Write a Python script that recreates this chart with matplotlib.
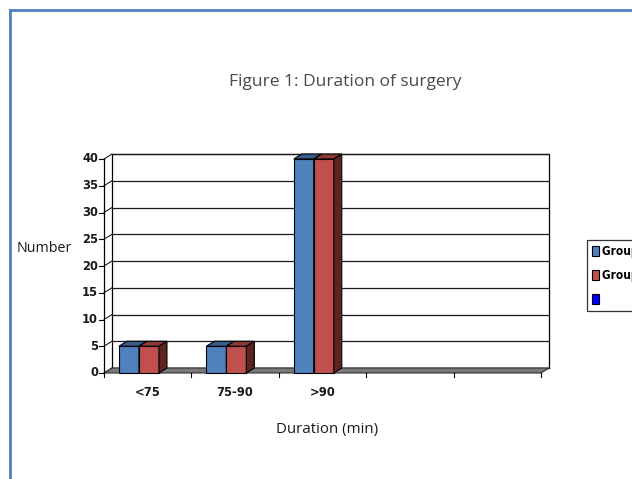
import numpy as np
import matplotlib.pyplot as plt
from matplotlib.patches import Polygon, Patch
from matplotlib.lines import Line2D

# data
categories = ['<75', '75-90', '>90', '', '']
group1 = [5, 5, 40]
group2 = [5, 5, 40]
series_names = ['Group 1', 'Group 2', '']
y_ticks = [0, 5, 10, 15, 20, 25, 30, 35, 40]

W, H = 632, 479
fig = plt.figure(figsize=(W / 100, H / 100), dpi=100)
fig.patch.set_facecolor('white')

tick_font = dict(family='DejaVu Sans', stretch='condensed', weight='bold', size=9.3)

# axes placed in pixel terms: front axis x 104..541, y(0)=373, y(40)=159
x0_px, x1_px = 104, 541
y0_px, y40_px = 373, 159
px_cat = (x1_px - x0_px) / len(categories)
px_val = (y0_px - y40_px) / 40.0
# axes box a bit larger than the front plane to hold the depth
ax_l, ax_r, ax_t, ax_b = 95, 560, 145, 380
ax = fig.add_axes([ax_l / W, 1 - ax_b / H, (ax_r - ax_l) / W, (ax_b - ax_t) / H])
ax.set_xlim((ax_l - x0_px) / px_cat, (ax_r - x0_px) / px_cat)
ax.set_ylim((y0_px - ax_b) / px_val, (y0_px - ax_t) / px_val)
ax.axis('off')

# depth offset (data units)
dx = 8 / px_cat
dy = 5 / px_val
ncat = len(categories)
ymax = y_ticks[-1]

# floor
ax.add_patch(Polygon([(0, 0), (ncat, 0), (ncat + dx, dy), (dx, dy)],
                     closed=True, fc='#7a7a7a', ec='#333333', lw=0.8, zorder=1))
# back wall and gridlines
ax.add_patch(Polygon([(dx, dy), (ncat + dx, dy), (ncat + dx, ymax + dy), (dx, ymax + dy)],
                     closed=True, fc='white', ec='black', lw=0.9, zorder=0))
for v in y_ticks:
    ax.plot([dx, ncat + dx], [v + dy, v + dy], color='#1a1a1a', lw=0.9, zorder=0.5)
    ax.plot([0, dx], [v, v + dy], color='black', lw=0.7, zorder=0.5)
    ax.plot([-5 / px_cat, 0], [v, v], color='black', lw=0.8, zorder=2)
    ax.text(-6 / px_cat, v, str(v), ha='right', va='center', color='#1a1a1a', **tick_font)
# left axis
ax.plot([0, 0], [0, ymax], color='black', lw=0.9, zorder=2)
# x ticks along the front of the floor
for i in range(ncat + 1):
    ax.plot([i, i], [0, -4 / px_val], color='black', lw=0.8, zorder=2)
for i, lab in enumerate(categories):
    ax.text(i + 0.5, -19 / px_val, lab, ha='center', va='center', color='#1a1a1a',
            **tick_font)

# 3d bars
bw = 20 / px_cat
pair_shift = -0.1
styles = [('#4f81bd', '#385d8a', '#2f4f78'), ('#c0504d', '#8c3836', '#5e2422')]
for s, vals in enumerate([group1, group2]):
    front, top, side = styles[s]
    for i, v in enumerate(vals):
        xl = i + 0.5 + pair_shift + (s - 1) * bw
        xr = xl + bw
        z = 3 + i * 2 + s * 0.1
        ax.bar(xl, v, width=bw, align='edge', color=front, edgecolor='black',
               lw=0.8, zorder=z)
        ax.add_patch(Polygon([(xl, v), (xr, v), (xr + dx, v + dy), (xl + dx, v + dy)],
                             closed=True, fc=top, ec='black', lw=0.8, zorder=z))
        ax.add_patch(Polygon([(xr, 0), (xr + dx, dy), (xr + dx, v + dy), (xr, v)],
                             closed=True, fc=side, ec='black', lw=0.8, zorder=z))

# texts
fig.text(345 / W, 1 - 82 / H, 'Figure 1: Duration of surgery', ha='center', va='center',
         fontsize=12.5, family='Open Sans', color='#4a4a4a')
fig.text(17 / W, 1 - 249 / H, 'Number', ha='left', va='center',
         fontsize=10.3, family='Open Sans', color='#1a1a1a')
fig.text(327 / W, 1 - 429 / H, 'Duration (min)', ha='center', va='center',
         fontsize=10.8, family='Open Sans', color='#1a1a1a')

# legend (cut at the right edge as in the source)
handles = [Patch(fc='#4f81bd', ec='black', lw=0.8),
           Patch(fc='#c0504d', ec='black', lw=0.8),
           Patch(fc='#0000ff', ec='black', lw=0.8)]
leg = fig.legend(handles, series_names, loc='upper left',
                 bbox_to_anchor=(587 / W, 1 - 240 / H), frameon=True, fancybox=False,
                 handlelength=0.6, handleheight=0.9, handletextpad=0.3,
                 labelspacing=0.95, borderpad=0.4, borderaxespad=0,
                 prop=dict(family='DejaVu Sans', stretch='condensed', weight='bold',
                           size=8.5))
leg.get_frame().set_edgecolor('black')
leg.get_frame().set_linewidth(0.9)

# blue page border (left and top)
fig.add_artist(Line2D([9.5 / W, 9.5 / W], [0, 1 - 9.5 / H], color='#4f81bd', lw=2,
                      transform=fig.transFigure))
fig.add_artist(Line2D([9.5 / W, 1], [1 - 9.5 / H, 1 - 9.5 / H], color='#4f81bd', lw=2,
                      transform=fig.transFigure))

plt.savefig('out.png', dpi=100)
